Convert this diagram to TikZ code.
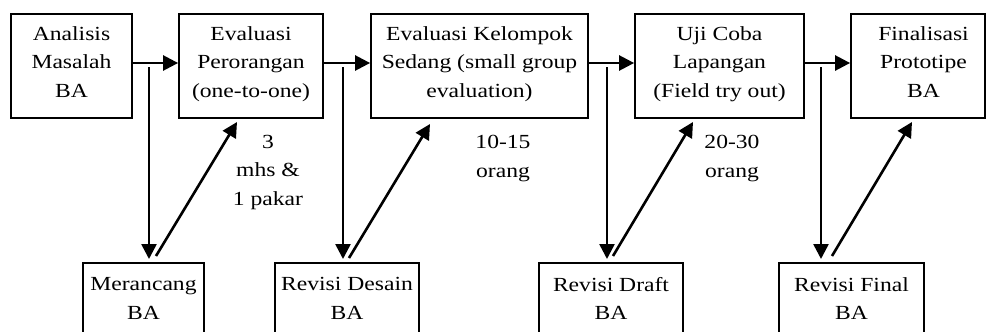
\documentclass[tikz,border=0pt]{standalone}
\usepackage{fontspec}
\setmainfont{Liberation Serif}[FakeStretch=1.18]
\usetikzlibrary{arrows.meta,calc}
\newcommand{\dpt}[1]{\rule[-#1]{0pt}{0pt}}
\begin{document}
\begin{tikzpicture}[x=1pt,y=-1pt,
  box/.style={draw,line width=1.8pt,inner sep=0pt,align=center,
    font=\fontsize{20}{28.5}\selectfont},
  topbox/.style={box,minimum height=104pt},
  botbox/.style={box,minimum height=104pt,anchor=north},
  arr/.style={line width=2.6pt,-{Triangle[length=15pt,width=15pt]}},
  lbl/.style={align=center,inner sep=0pt,anchor=base,
    font=\fontsize{20}{28.5}\selectfont}]
\useasboundingbox (0,0) rectangle (986,332);
\clip (0,0) rectangle (986,332);
% top row
\node[topbox,minimum width=121pt] (a1) at (71.5,66) {Analisis\\Masalah\\BA\dpt{8pt}};
\node[topbox,minimum width=144pt] (a2) at (251,66) {Evaluasi\\Perorangan\\(one-to-one)\dpt{8pt}};
\node[topbox,minimum width=217pt] (a3) at (479.5,66) {Evaluasi Kelompok\\Sedang (small group\\evaluation)\dpt{8pt}};
\node[topbox,minimum width=169pt] (a4) at (719.5,66) {Uji Coba\\Lapangan\\(Field try out)\dpt{8pt}};
\node[topbox,minimum width=134pt] (a5) at (918,66) {\hspace*{11pt}Finalisasi\\\hspace*{11pt}Prototipe\\\hspace*{11pt}BA\dpt{8pt}};
% bottom row
\node[botbox,minimum width=121pt] (b1) at (143.5,262) {Merancang\\BA\dpt{33pt}};
\node[botbox,minimum width=144pt] (b2) at (347,262) {Revisi Desain\\BA\dpt{33pt}};
\node[botbox,minimum width=144pt] (b3) at (611,262) {Revisi Draft\\BA\dpt{33pt}};
\node[botbox,minimum width=145pt] (b4) at (851.5,262) {Revisi Final\\BA\dpt{33pt}};
% labels (anchor base = baseline of last line)
\node[lbl] (l1) at (268,205) {3\\mhs \&\\1 pakar};
\node[lbl] (l2) at (503,177) {10-15\\orang};
\node[lbl] (l3) at (732,177) {20-30\\orang};
% horizontal arrows
\coordinate (h) at (0,63);
\draw[arr] (a1.east |- h) -- (a2.west |- h);
\draw[arr] (a2.east |- h) -- (a3.west |- h);
\draw[arr] (a3.east |- h) -- (a4.west |- h);
\draw[arr] (a4.east |- h) -- (a5.west |- h);
% vertical arrows down
\coordinate (v1s) at (149,67);  \coordinate (v1e) at (149,259);
\coordinate (v2s) at (343,67);  \coordinate (v2e) at (343,259);
\coordinate (v3s) at (607,67);  \coordinate (v3e) at (607,259);
\coordinate (v4s) at (821,67);  \coordinate (v4e) at (821,259);
\draw[arr] (v1s) -- (v1e);
\draw[arr] (v2s) -- (v2e);
\draw[arr] (v3s) -- (v3e);
\draw[arr] (v4s) -- (v4e);
% diagonal arrows up
\coordinate (d1s) at (156,256); \coordinate (d1e) at (237,122);
\coordinate (d2s) at (349,258); \coordinate (d2e) at (430,124);
\coordinate (d3s) at (613,256); \coordinate (d3e) at (693,122);
\coordinate (d4s) at (832,256); \coordinate (d4e) at (912,122);
\draw[arr] (d1s) -- (d1e);
\draw[arr] (d2s) -- (d2e);
\draw[arr] (d3s) -- (d3e);
\draw[arr] (d4s) -- (d4e);
\end{tikzpicture}
\end{document}
